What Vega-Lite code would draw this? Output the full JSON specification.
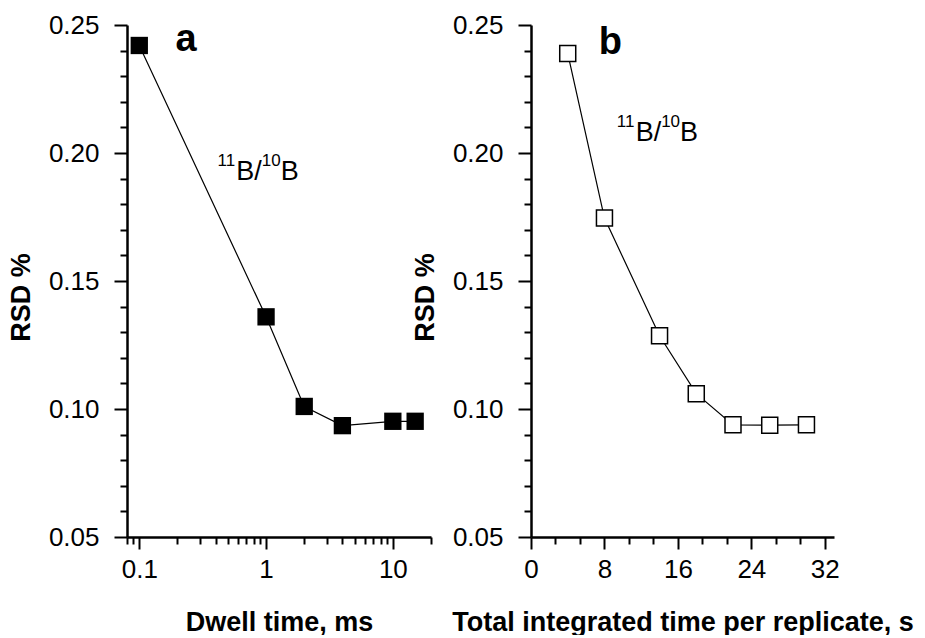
{
  "$schema": "https://vega.github.io/schema/vega-lite/v6.json",
  "background": "white",
  "padding": {"left": 7, "top": 12, "right": 0, "bottom": 0},
  "spacing": 100,
  "bounds": "flush",
  "config": {
    "view": {"stroke": null},
    "font": "Liberation Sans",
    "axis": {
      "grid": false,
      "domainColor": "black",
      "domainWidth": 2.5,
      "tickColor": "black",
      "tickWidth": 2,
      "tickSize": 7,
      "labelColor": "black",
      "labelFont": "Liberation Sans",
      "labelFontSize": 26,
      "labelOverlap": false,
      "labelBound": false,
      "labelFlush": false,
      "titleFont": "Liberation Sans",
      "titleFontSize": 27,
      "titleFontWeight": "bold",
      "titleColor": "black"
    }
  },
  "datasets": {
    "ptsA": [{"x": 0.1, "y": 0.242}, {"x": 1, "y": 0.136}, {"x": 2, "y": 0.101}, {"x": 4, "y": 0.0935}, {"x": 10, "y": 0.0952}, {"x": 15, "y": 0.0952}],
    "ptsB": [{"x": 4, "y": 0.2389}, {"x": 8, "y": 0.1746}, {"x": 14, "y": 0.1286}, {"x": 18, "y": 0.106}, {"x": 22, "y": 0.0938}, {"x": 26, "y": 0.0937}, {"x": 30, "y": 0.0938}],
    "tagA": [{"x": 0.234, "y": 0.2398, "t": "a"}],
    "tagB": [{"x": 8.63, "y": 0.2387, "t": "b"}],
    "isoA": [{"x": 0.4136, "y": 0.1895}],
    "isoB": [{"x": 9.34, "y": 0.2048}]
  },
  "hconcat": [
    {
      "width": 304,
      "height": 512,
      "encoding": {
        "x": {
          "field": "x", "type": "quantitative",
          "scale": {"type": "log", "domain": [0.08, 20], "nice": false},
          "axis": {
            "title": "Dwell time, ms",
            "values": [0.08, 0.09, 0.1, 0.2, 0.3, 0.4, 0.5, 0.6, 0.7, 0.8, 0.9, 1, 2, 3, 4, 5, 6, 7, 8, 9, 10, 20],
            "labelExpr": "(datum.value == 0.1 || datum.value == 1 || datum.value == 10) ? datum.label : ''",
            "labelOverlap": false,
            "tickSize": {"condition": {"test": "datum.value == 0.1 || datum.value == 1 || datum.value == 10", "value": 12}, "value": 7},
            "labelPadding": 7,
            "titlePadding": 27
          }
        },
        "y": {
          "field": "y", "type": "quantitative",
          "scale": {"domain": [0.05, 0.25], "nice": false, "zero": false},
          "axis": {
            "title": "RSD %",
            "titleY": 272,
            "values": [0.05, 0.06, 0.07, 0.08, 0.09, 0.1, 0.11, 0.12, 0.13, 0.14, 0.15, 0.16, 0.17, 0.18, 0.19, 0.2, 0.21, 0.22, 0.23, 0.24, 0.25],
            "labelExpr": "round(datum.value * 100) % 5 == 0 ? format(datum.value, '.2f') : ''",
            "labelOverlap": false,
            "tickSize": {"condition": {"test": "round(datum.value * 100) % 5 == 0", "value": 13}, "value": 7},
            "labelPadding": 15,
            "titlePadding": 13
          }
        }
      },
      "layer": [
        {
          "data": {"name": "ptsA"},
          "mark": {"type": "line", "color": "black", "strokeWidth": 1.2}
        },
        {
          "data": {"name": "ptsA"},
          "mark": {"type": "square", "size": 300, "color": "black", "filled": true, "opacity": 1}
        },
        {
          "data": {"name": "tagA"},
          "mark": {"type": "text", "fontSize": 38, "fontWeight": "bold", "align": "center", "baseline": "alphabetic", "color": "black"},
          "encoding": {"text": {"field": "t"}}
        },
        {
          "data": {"name": "isoA"},
          "mark": {"type": "text", "text": "11", "fontSize": 17, "align": "left", "baseline": "alphabetic", "dx": 0, "dy": -14, "color": "black"}
        },
        {
          "data": {"name": "isoA"},
          "mark": {"type": "text", "text": "B/", "fontSize": 27, "align": "left", "baseline": "alphabetic", "dx": 18.9, "color": "black"}
        },
        {
          "data": {"name": "isoA"},
          "mark": {"type": "text", "text": "10", "fontSize": 17, "align": "left", "baseline": "alphabetic", "dx": 44.4, "dy": -14, "color": "black"}
        },
        {
          "data": {"name": "isoA"},
          "mark": {"type": "text", "text": "B", "fontSize": 27, "align": "left", "baseline": "alphabetic", "dx": 63.3, "color": "black"}
        }
      ]
    },
    {
      "width": 303,
      "height": 512,
      "encoding": {
        "x": {
          "field": "x", "type": "quantitative",
          "scale": {"domain": [0, 33], "nice": false, "zero": false},
          "axis": {
            "title": "Total integrated time per replicate, s",
            "values": [0, 2.6667, 5.3333, 8, 10.6667, 13.3333, 16, 18.6667, 21.3333, 24, 26.6667, 29.3333, 32],
            "labelExpr": "(datum.value % 8 == 0) ? datum.label : ''",
            "labelOverlap": false,
            "tickSize": {"condition": {"test": "datum.value % 8 == 0", "value": 12}, "value": 7},
            "labelPadding": 7,
            "titlePadding": 27
          }
        },
        "y": {
          "field": "y", "type": "quantitative",
          "scale": {"domain": [0.05, 0.25], "nice": false, "zero": false},
          "axis": {
            "title": "RSD %",
            "titleY": 272,
            "values": [0.05, 0.06, 0.07, 0.08, 0.09, 0.1, 0.11, 0.12, 0.13, 0.14, 0.15, 0.16, 0.17, 0.18, 0.19, 0.2, 0.21, 0.22, 0.23, 0.24, 0.25],
            "labelExpr": "round(datum.value * 100) % 5 == 0 ? format(datum.value, '.2f') : ''",
            "labelOverlap": false,
            "tickSize": {"condition": {"test": "round(datum.value * 100) % 5 == 0", "value": 13}, "value": 7},
            "labelPadding": 15,
            "titlePadding": 13
          }
        }
      },
      "layer": [
        {
          "data": {"name": "ptsB"},
          "mark": {"type": "line", "color": "black", "strokeWidth": 1.2}
        },
        {
          "data": {"name": "ptsB"},
          "mark": {"type": "square", "size": 256, "fill": "white", "stroke": "black", "strokeWidth": 1.5, "filled": true, "opacity": 1}
        },
        {
          "data": {"name": "tagB"},
          "mark": {"type": "text", "fontSize": 38, "fontWeight": "bold", "align": "center", "baseline": "alphabetic", "color": "black"},
          "encoding": {"text": {"field": "t"}}
        },
        {
          "data": {"name": "isoB"},
          "mark": {"type": "text", "text": "11", "fontSize": 17, "align": "left", "baseline": "alphabetic", "dx": 0, "dy": -14, "color": "black"}
        },
        {
          "data": {"name": "isoB"},
          "mark": {"type": "text", "text": "B/", "fontSize": 27, "align": "left", "baseline": "alphabetic", "dx": 18.9, "color": "black"}
        },
        {
          "data": {"name": "isoB"},
          "mark": {"type": "text", "text": "10", "fontSize": 17, "align": "left", "baseline": "alphabetic", "dx": 44.4, "dy": -14, "color": "black"}
        },
        {
          "data": {"name": "isoB"},
          "mark": {"type": "text", "text": "B", "fontSize": 27, "align": "left", "baseline": "alphabetic", "dx": 63.3, "color": "black"}
        }
      ]
    }
  ]
}
